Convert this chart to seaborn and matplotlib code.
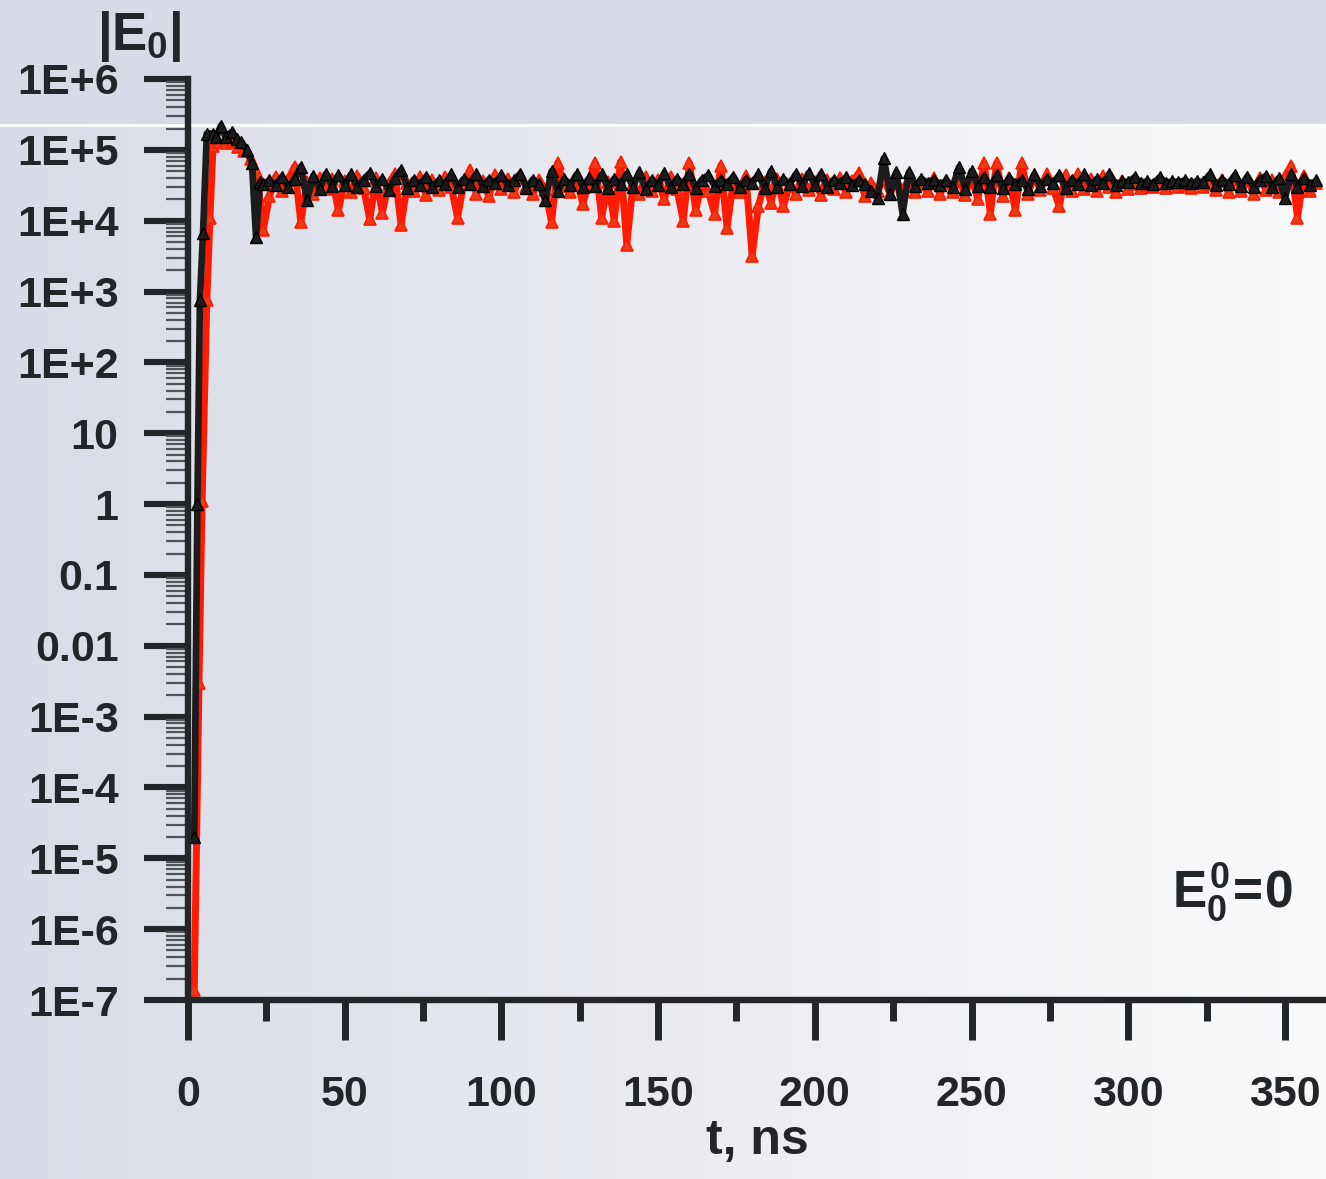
import numpy as np
import pandas as pd
import matplotlib
matplotlib.use("Agg")
import matplotlib.pyplot as plt
from matplotlib.patches import Rectangle
from matplotlib.ticker import FixedLocator, LogLocator, NullFormatter, MultipleLocator
import seaborn as sns

# ---------------- data ----------------
red_early_t = [2, 3.5, 4.5, 6, 7, 8, 10, 12, 14, 16, 18, 20, 22]
red_early_v = [1.4e-7, 3e-3, 1.1, 7.6e2, 1.1e4, 1.15e5, 1.3e5, 1.25e5, 1.3e5, 1.1e5, 9.5e4, 7.5e4, 4.7e4]

black_early_t = [2, 3, 3.8, 4.8, 6, 8, 9, 10.5, 12, 14, 15.5, 17, 18.8, 20.4, 21.7, 23]
black_early_v = [2e-5, 1.0, 7.6e2, 6.8e3, 1.7e5, 1.7e5, 1.5e5, 2.2e5, 1.5e5, 1.8e5, 1.4e5,
                 1.3e5, 1.0e5, 6.5e4, 5.9e3, 3.5e4]

tail_start = 24  # ns, samples every 2 ns
red_tail_v = [
    7.4e3, 2.2e4, 4.2e4, 2.6e4, 3.8e4, 5.8e4, 9.5e3, 3.5e4, 2.4e4, 4.0e4,   # 24-42
    2.8e4, 3.9e4, 1.4e4, 3.6e4, 2.5e4, 4.3e4, 2.9e4, 1.05e4, 4.0e4, 1.3e4,  # 44-62
    3.3e4, 4.6e4, 8.7e3, 3.4e4, 2.6e4, 4.1e4, 2.3e4, 3.7e4, 2.7e4, 4.2e4,   # 64-82
    3.0e4, 1.1e4, 3.4e4, 5.2e4, 2.4e4, 3.6e4, 2.2e4, 4.4e4, 2.8e4, 3.9e4,   # 84-102
    2.5e4, 4.3e4, 3.0e4, 2.4e4, 3.8e4, 2.7e4, 9.5e3, 6.5e4, 3.1e4, 2.5e4,   # 104-122
    4.0e4, 1.7e4, 3.8e4, 6.5e4, 1.1e4, 3.5e4, 1.0e4, 6.8e4, 4.6e3, 3.3e4,   # 124-142
    2.4e4, 4.1e4, 2.6e4, 3.7e4, 2.0e4, 4.2e4, 2.8e4, 1.0e4, 6.5e4, 1.4e4,   # 144-162
    3.4e4, 2.6e4, 1.26e4, 6.0e4, 8.0e3, 3.6e4, 2.5e4, 4.3e4, 3.2e3, 1.6e4,  # 164-182
    3.5e4, 1.8e4, 3.9e4, 1.6e4, 3.3e4, 2.4e4, 3.9e4, 2.7e4, 3.5e4, 2.3e4,   # 184-202
    3.7e4, 2.8e4, 4.0e4, 2.5e4, 3.6e4, 4.7e4, 2.2e4, 3.4e4, 2.6e4, 3.9e4,   # 204-222
    2.4e4, 3.5e4, 2.7e4, 3.8e4, 2.5e4, 3.3e4, 2.6e4, 4.0e4, 2.4e4, 3.6e4,   # 224-242
    2.5e4, 3.9e4, 2.3e4, 4.3e4, 2.0e4, 6.5e4, 1.26e4, 6.5e4, 2.2e4, 4.0e4,  # 244-262
    1.4e4, 6.5e4, 2.4e4, 4.2e4, 2.7e4, 4.5e4, 2.9e4, 1.6e4, 4.4e4, 2.6e4,   # 264-282
    4.6e4, 2.8e4, 3.9e4, 2.6e4, 4.3e4, 3.0e4, 2.5e4, 3.6e4, 2.8e4, 3.3e4,   # 284-302
    2.9e4, 3.2e4, 3.0e4, 3.3e4, 2.9e4, 3.4e4, 3.0e4, 3.2e4, 2.9e4, 3.4e4,   # 304-322
    3.0e4, 3.3e4, 2.7e4, 3.8e4, 2.5e4, 4.1e4, 2.6e4, 3.9e4, 2.4e4, 4.0e4,   # 324-342
    2.7e4, 3.7e4, 2.5e4, 4.2e4, 6.0e4, 1.1e4, 4.3e4, 2.6e4, 3.4e4,          # 344-360
]
black_tail_v = [
    3.3e4, 3.7e4, 3.2e4, 4.2e4, 3.0e4, 3.9e4, 5.8e4, 1.95e4, 4.3e4, 2.8e4,  # 24-42
    4.6e4, 3.1e4, 4.4e4, 3.2e4, 4.5e4, 3.0e4, 3.8e4, 4.7e4, 3.1e4, 3.9e4,   # 44-62
    2.7e4, 4.0e4, 5.2e4, 2.9e4, 3.8e4, 3.2e4, 4.2e4, 3.0e4, 3.7e4, 3.3e4,   # 64-82
    4.5e4, 3.0e4, 3.9e4, 3.3e4, 4.6e4, 3.1e4, 3.8e4, 3.4e4, 4.4e4, 3.2e4,   # 84-102
    3.7e4, 4.6e4, 2.9e4, 3.8e4, 3.3e4, 1.95e4, 5.0e4, 2.6e4, 3.9e4, 3.2e4,  # 104-122
    4.5e4, 3.0e4, 4.0e4, 3.1e4, 4.5e4, 2.9e4, 3.9e4, 3.3e4, 4.6e4, 3.0e4,   # 124-142
    4.8e4, 2.8e4, 3.8e4, 3.2e4, 4.7e4, 3.0e4, 3.9e4, 3.3e4, 4.6e4, 2.9e4,   # 144-162
    3.8e4, 4.4e4, 3.1e4, 3.8e4, 3.3e4, 4.2e4, 3.0e4, 3.8e4, 3.4e4, 4.5e4,   # 164-182
    2.9e4, 5.0e4, 3.0e4, 3.9e4, 3.3e4, 4.6e4, 3.1e4, 4.7e4, 3.2e4, 4.6e4,   # 184-202
    3.0e4, 3.8e4, 3.4e4, 4.1e4, 3.2e4, 3.7e4, 3.3e4, 2.6e4, 2.1e4, 7.6e4,   # 204-222
    2.4e4, 4.8e4, 1.26e4, 4.8e4, 3.1e4, 3.9e4, 3.4e4, 3.8e4, 3.2e4, 3.7e4,  # 224-242
    3.0e4, 5.7e4, 2.8e4, 5.0e4, 3.1e4, 4.2e4, 3.0e4, 4.4e4, 2.9e4, 4.0e4,   # 244-262
    3.3e4, 3.8e4, 2.8e4, 4.5e4, 3.1e4, 3.9e4, 3.4e4, 4.4e4, 2.9e4, 3.8e4,   # 264-282
    3.3e4, 4.5e4, 3.2e4, 3.9e4, 3.4e4, 4.6e4, 3.2e4, 3.6e4, 3.5e4, 4.1e4,   # 284-302
    3.4e4, 3.6e4, 3.3e4, 4.1e4, 3.4e4, 3.6e4, 3.5e4, 3.7e4, 3.4e4, 3.6e4,   # 304-322
    3.5e4, 4.5e4, 3.2e4, 3.8e4, 3.3e4, 4.4e4, 3.1e4, 4.2e4, 3.0e4, 3.8e4,   # 324-342
    4.3e4, 3.0e4, 4.0e4, 2.1e4, 4.5e4, 3.0e4, 4.0e4, 3.2e4, 3.7e4,          # 344-360
]

y_major = [1e-7, 1e-6, 1e-5, 1e-4, 1e-3, 1e-2, 1e-1, 1, 10, 1e2, 1e3, 1e4, 1e5, 1e6]
y_labels = ["1E-7", "1E-6", "1E-5", "1E-4", "1E-3", "0.01", "0.1", "1", "10",
            "1E+2", "1E+3", "1E+4", "1E+5", "1E+6"]
x_major = [0, 50, 100, 150, 200, 250, 300, 350]
x_labels = ["0", "50", "100", "150", "200", "250", "300", "350"]

red_t = list(red_early_t) + list(tail_start + 2 * np.arange(len(red_tail_v)))
red_v = list(red_early_v) + list(red_tail_v)
black_t = list(black_early_t) + list(tail_start + 2 * np.arange(len(black_tail_v)))
black_v = list(black_early_v) + list(black_tail_v)
red_df = pd.DataFrame({"t": red_t, "E": red_v})
black_df = pd.DataFrame({"t": black_t, "E": black_v})

# ---------------- style ----------------
sns.set_style("ticks")
plt.rcParams["font.family"] = ["Liberation Sans", "DejaVu Sans"]
plt.rcParams["font.weight"] = "bold"
plt.rcParams["mathtext.fontset"] = "custom"
plt.rcParams["mathtext.rm"] = "Liberation Sans:bold"
plt.rcParams["mathtext.bf"] = "Liberation Sans:bold"
plt.rcParams["mathtext.it"] = "Liberation Sans:bold"

W, H = 1326, 1179
fig = plt.figure(figsize=(W / 100, H / 100), dpi=100)

# background: horizontal gradient + top band
bg = fig.add_axes([0, 0, 1, 1], zorder=-10)
left_c = np.array([0xd8, 0xdc, 0xe6]) / 255
right_c = np.array([0xfa, 0xfa, 0xfb]) / 255
frac = np.linspace(0, 1, 256)[None, :, None]
grad = left_c[None, None, :] * (1 - frac) + right_c[None, None, :] * frac
bg.imshow(grad, aspect="auto", extent=[0, 1, 0, 1], origin="lower")
bg.add_patch(Rectangle((0, (H - 124) / H), 1, 124 / H, color="#d7dbe5", lw=0))
bg.add_patch(Rectangle((0, (H - 127) / H), 1, 3 / H, color="#ffffff", lw=0))
bg.set_xlim(0, 1); bg.set_ylim(0, 1)
bg.axis("off")

ax = fig.add_axes([188 / W, 179 / H, (W - 188) / W, 921 / H])
ax.set_facecolor("none")

sns.lineplot(data=red_df, x="t", y="E", ax=ax, sort=False, estimator=None,
             color="#ff1a00", linewidth=5.0, zorder=3)
red_line = ax.lines[-1]
red_line.set_marker("^")
red_line.set_markersize(9)
red_line.set_markerfacecolor("#ee3a14")
red_line.set_markeredgecolor("#ff1a00")
red_line.set_markeredgewidth(1.2)

sns.lineplot(data=black_df, x="t", y="E", ax=ax, sort=False, estimator=None,
             color="#1c1c1c", linewidth=4.8, zorder=4)
black_line = ax.lines[-1]
black_line.set_marker("^")
black_line.set_markersize(8)
black_line.set_markerfacecolor("#1c1c1c")
black_line.set_markeredgecolor("#000000")
black_line.set_markeredgewidth(1.0)

ax.set_yscale("log")
ax.set_ylim(1e-7, 1e6)
ax.set_xlim(0, 363.1)

ax.yaxis.set_major_locator(FixedLocator(y_major))
ax.set_yticks(y_major)
ax.set_yticklabels(y_labels)
ax.yaxis.set_minor_locator(LogLocator(base=10, subs=np.arange(2, 10), numticks=100))
ax.yaxis.set_minor_formatter(NullFormatter())
ax.set_xticks(x_major)
ax.set_xticklabels(x_labels)
ax.xaxis.set_minor_locator(MultipleLocator(25))

dark = "#222629"
for s in ["top", "right"]:
    ax.spines[s].set_visible(False)
for s in ["left", "bottom"]:
    ax.spines[s].set_linewidth(4.6)
    ax.spines[s].set_color(dark)
    ax.spines[s].set_zorder(5)

ax.tick_params(axis="y", which="major", direction="out", length=32, width=4.4,
               color=dark, pad=18, labelsize=31, labelcolor=dark)
ax.tick_params(axis="y", which="minor", direction="out", length=16, width=1.6,
               color="#50555a")
ax.tick_params(axis="x", which="major", direction="out", length=29, width=5,
               color=dark, pad=25, labelsize=31, labelcolor=dark)
ax.tick_params(axis="x", which="minor", direction="out", length=15, width=5, color=dark)
for lab in ax.get_xticklabels() + ax.get_yticklabels():
    lab.set_fontweight("bold")

ax.set_xlabel("t, ns", fontsize=36, fontweight="bold", color=dark, labelpad=2)
ax.set_ylabel("")

fig.text(97 / W, 1 - 36 / H, r"$|E_0|$", fontsize=38, color=dark,
         ha="left", va="center")
fig.text(1172 / W, 1 - 892 / H, r"$E_0^0\!=\!0$", fontsize=37, color=dark,
         ha="left", va="center")

fig.savefig("out.png", dpi=100)
